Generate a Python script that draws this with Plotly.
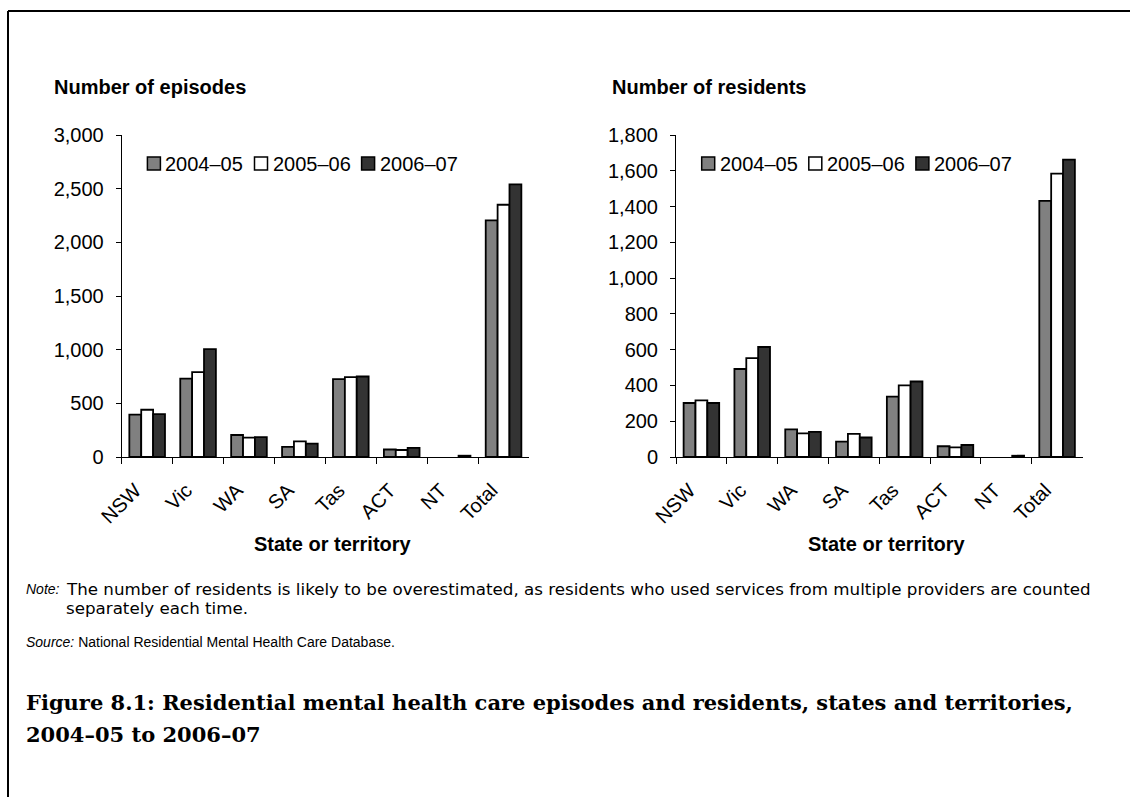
import plotly.graph_objects as go

W, H = 1130, 797

states = ["NSW", "Vic", "WA", "SA", "Tas", "ACT", "NT", "Total"]
years = ["2004–05", "2005–06", "2006–07"]
colors = ["#808080", "#ffffff", "#333333"]

episodes_2004_05 = [395, 730, 205, 95, 725, 70, None, 2205]
episodes_2005_06 = [440, 790, 180, 145, 745, 65, None, 2350]
episodes_2006_07 = [400, 1005, 185, 125, 750, 85, 12, 2540]

residents_2004_05 = [302, 492, 154, 86, 338, 60, None, 1432]
residents_2005_06 = [317, 553, 132, 129, 400, 54, None, 1584]
residents_2006_07 = [302, 615, 140, 109, 422, 67, 7, 1662]

episodes = [episodes_2004_05, episodes_2005_06, episodes_2006_07]
residents = [residents_2004_05, residents_2005_06, residents_2006_07]

SANS = "Liberation Sans, Arial, sans-serif"
NOTE = "DejaVu Sans, Liberation Sans, sans-serif"
SERIF = "DejaVu Serif, Liberation Serif, serif"


def px(x):
    return x / W


def py(y):
    return 1 - y / H


fig = go.Figure()
for i, yr in enumerate(years):
    fig.add_trace(go.Bar(x=states, y=episodes[i], name=yr, marker_color=colors[i],
                         marker_line=dict(color="black", width=1.8),
                         xaxis="x", yaxis="y", showlegend=False))
    fig.add_trace(go.Bar(x=states, y=residents[i], name=yr, marker_color=colors[i],
                         marker_line=dict(color="black", width=1.8),
                         xaxis="x2", yaxis="y2", showlegend=False))

y_dom = [py(457), py(135)]
xaxis_common = dict(type="category", range=[-0.5, 7.5], showline=True, linecolor="black",
                    linewidth=1, ticks="outside", tickson="boundaries", ticklen=6,
                    tickcolor="black", tickangle=-45, showgrid=False, ticklabelstandoff=1,
                    automargin=False, tickmode="array", tickvals=states,
                    ticktext=[s + "&nbsp;" * 3 for s in states],
                    tickfont=dict(family=SANS, size=20, color="black"))
yaxis_common = dict(showline=True, linecolor="black", linewidth=1, ticks="outside",
                    ticklen=5, tickcolor="black", showgrid=False, zeroline=False,
                    tickformat=",", tickfont=dict(family=SANS, size=20, color="black"),
                    domain=y_dom, ticklabelstandoff=8, automargin=False)

fig.update_layout(
    width=W, height=H, margin=dict(l=0, r=0, t=0, b=0, pad=0, autoexpand=False),
    paper_bgcolor="white", plot_bgcolor="white",
    barmode="group", bargap=0.30, bargroupgap=0,
    xaxis=dict(domain=[px(121.7), px(529)], anchor="y", **xaxis_common),
    xaxis2=dict(domain=[px(676), px(1082.5)], anchor="y2", **xaxis_common),
    yaxis=dict(range=[0, 3000], dtick=500, anchor="x", **yaxis_common),
    yaxis2=dict(range=[0, 1800], dtick=200, anchor="x2", **yaxis_common),
    showlegend=False,
)

annotations = []
shapes = []


def text(x, y, s, size=20, family=SANS, xanchor="left"):
    annotations.append(dict(x=px(x), y=py(y), xref="paper", yref="paper", text=s,
                            showarrow=False, xanchor=xanchor, yanchor="middle",
                            font=dict(family=family, size=size, color="black")))


text(52, 87, "<b>Number of episodes</b>")
text(610, 87, "<b>Number of residents</b>")
text(333, 544, "<b>State or territory</b>", xanchor="center")
text(887, 544, "<b>State or territory</b>", xanchor="center")

# legends
for x0 in (147.4, 701.7):
    for i, yr in enumerate(years):
        sx = x0 + i * 107.1
        shapes.append(dict(type="rect", xref="paper", yref="paper",
                           x0=px(sx), x1=px(sx + 13), y0=py(170), y1=py(157),
                           fillcolor=colors[i], line=dict(color="black", width=1.5)))
        text(sx + 16, 163.5, yr)

# notes
text(24, 589, "<i>Note:</i>", size=14)
text(64, 589, "The number of residents is likely to be overestimated, as residents who used services from multiple providers are counted", size=16.7, family=NOTE)
text(64, 608, "separately each time.", size=16.7, family=NOTE)
text(24, 642, "<i>Source:</i> National Residential Mental Health Care Database.", size=14)

text(24, 702, "<b>Figure 8.1: Residential mental health care episodes and residents, states and territories,</b>", size=21, family=SERIF)
text(24, 734, "<b>2004–05 to 2006–07</b>", size=21, family=SERIF)

# border
shapes.append(dict(type="line", xref="paper", yref="paper", x0=px(8), x1=1, y0=py(11), y1=py(11),
                   line=dict(color="black", width=2)))
shapes.append(dict(type="line", xref="paper", yref="paper", x0=px(8), x1=px(8), y0=py(11), y1=0,
                   line=dict(color="black", width=2)))

fig.update_layout(annotations=annotations, shapes=shapes)
fig.write_html("out.html", post_script="document.body.style.margin='0';document.body.style.overflow='hidden';")
